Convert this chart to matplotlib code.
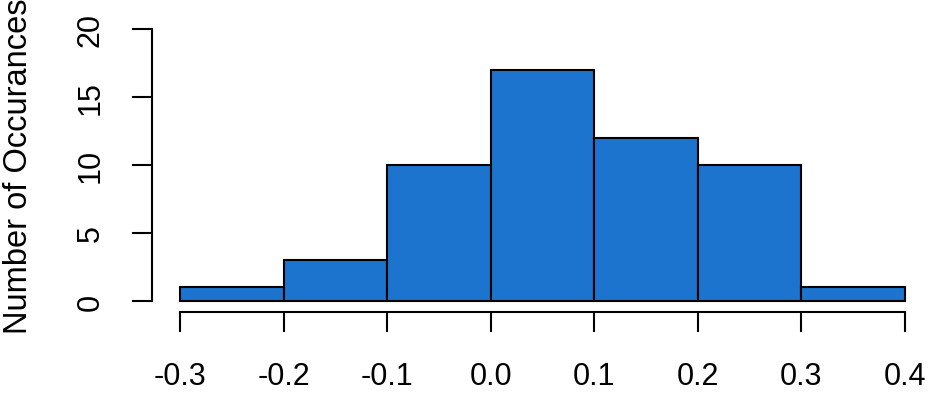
import matplotlib
matplotlib.use("Agg")
import matplotlib.pyplot as plt

bin_edges = [-0.3, -0.2, -0.1, 0.0, 0.1, 0.2, 0.3, 0.4]
counts = [1, 3, 10, 17, 12, 10, 1]
x_ticks = [-0.3, -0.2, -0.1, 0.0, 0.1, 0.2, 0.3, 0.4]
x_tick_labels = ["-0.3", "-0.2", "-0.1", "0.0", "0.1", "0.2", "0.3", "0.4"]
y_ticks = [0, 5, 10, 15, 20]
y_label = "Number of Occurances"

plt.rcParams['font.family'] = ['Liberation Sans', 'DejaVu Sans']

W, H = 950, 410
fig = plt.figure(figsize=(W / 100, H / 100), dpi=100)

# axes frame in pixels
left_px, right_px, top_px, bottom_px = 152, 930, 15, 313
ax = fig.add_axes([left_px / W, 1 - bottom_px / H, (right_px - left_px) / W, (bottom_px - top_px) / H])

xpx_per = (905 - 180) / 0.7
ypx_per = (302 - 30) / 20.0
ax.set_xlim(-0.3 - (180 - left_px) / xpx_per, 0.4 + (right_px - 905) / xpx_per)
ax.set_ylim(-(bottom_px - 302) / ypx_per, 20 + (30 - top_px) / ypx_per)

widths = [bin_edges[i + 1] - bin_edges[i] for i in range(len(counts))]
ax.bar(bin_edges[:-1], counts, width=widths, align='edge',
       color='#1C74CE', edgecolor='black', linewidth=1.5)

for s in ['top', 'right']:
    ax.spines[s].set_visible(False)
ax.spines['left'].set_bounds(0, 20)
ax.spines['bottom'].set_bounds(-0.3, 0.4)
for s in ['left', 'bottom']:
    ax.spines[s].set_linewidth(1.5)

ax.set_xticks(x_ticks)
ax.set_xticklabels(x_tick_labels)
ax.set_yticks(y_ticks)
ax.set_yticklabels([str(v) for v in y_ticks], rotation=90, va='center')
ax.tick_params(axis='both', length=14.5, width=1.5, labelsize=22, colors='black')
ax.tick_params(axis='x', pad=21)
ax.tick_params(axis='y', pad=19)

fig.text(19 / W, 1 - 166 / H, y_label, rotation=90, ha='center', va='center', fontsize=23.5)

fig.savefig("out.png", dpi=100)
